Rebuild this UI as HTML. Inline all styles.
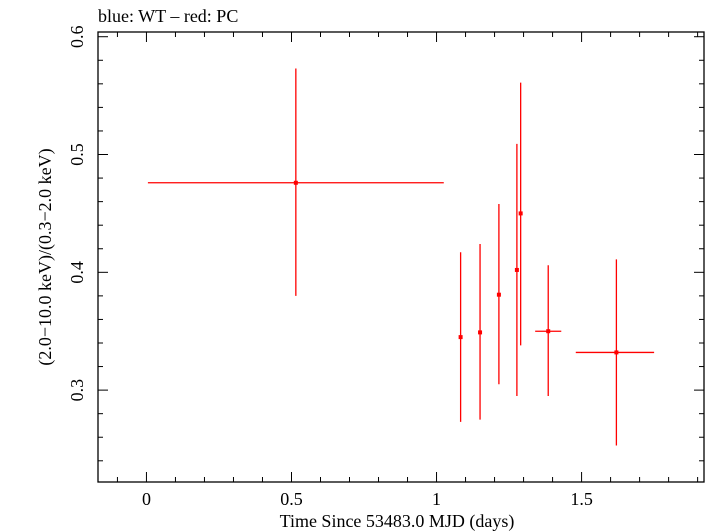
<!DOCTYPE html>
<html><head><meta charset="utf-8"><style>
body{margin:0;background:#fff;}
svg{display:block;font-family:"Liberation Serif",serif;}
</style></head><body>
<svg id="chart" width="705" height="532" viewBox="0 0 705 532" xmlns="http://www.w3.org/2000/svg">
<text x="98" y="22" font-size="18">blue: WT – red: PC</text>
<text x="397" y="527" font-size="18" text-anchor="middle">Time Since 53483.0 MJD (days)</text>
<text transform="translate(51,257) rotate(-90)" font-size="18" text-anchor="middle">(2.0−10.0 keV)/(0.3−2.0 keV)</text>
<g id="ticks"></g>
<g id="marks"></g>
<rect x="98" y="32" width="606" height="450" fill="none" stroke="#000" stroke-width="1.3"/>
</svg>
<script>
const xTickValues=[0,0.5,1,1.5];
const xTickLabels=["0","0.5","1","1.5"];
const yTickValues=[0.3,0.4,0.5,0.6];
const yTickLabels=["0.3","0.4","0.5","0.6"];
const times=[0.515,1.083,1.150,1.215,1.277,1.290,1.385,1.620];
const timeLo=[0.005,1.080,1.147,1.212,1.274,1.287,1.340,1.480];
const timeHi=[1.025,1.086,1.153,1.218,1.280,1.293,1.430,1.750];
const ratios=[0.476,0.345,0.349,0.381,0.402,0.450,0.350,0.332];
const ratioLo=[0.380,0.273,0.275,0.305,0.295,0.338,0.295,0.253];
const ratioHi=[0.573,0.417,0.424,0.458,0.509,0.561,0.406,0.411];

const L=98,R=704,T=32,B=482;
const xMin=-0.167,xMax=1.922,yMin=0.222,yMax=0.604;
const X=v=>L+(v-xMin)/(xMax-xMin)*(R-L);
const Y=v=>B-(v-yMin)/(yMax-yMin)*(B-T);
const NS="http://www.w3.org/2000/svg";
function mk(tag,attrs,parent){const e=document.createElementNS(NS,tag);for(const k in attrs)e.setAttribute(k,attrs[k]);parent.appendChild(e);return e;}
const tg=document.getElementById('ticks');
const mg=document.getElementById('marks');
for(let i=-1;i<=19;i++){const v=i/10;if(v<xMin||v>xMax)continue;const major=i%5===0;const len=major?10:5;
 const t1=mk('line',{x1:X(v),x2:X(v),y1:B,y2:B-len,stroke:'#000','stroke-width':1},tg);
 
 
 const t2=mk('line',{x1:X(v),x2:X(v),y1:T,y2:T+len,stroke:'#000','stroke-width':1},tg);
 
 }
for(let i=12;i<=30;i++){const v=i/50;if(v<yMin||v>yMax)continue;const major=i%5===0;const len=major?10:5;
 const t1=mk('line',{x1:L,x2:L+len,y1:Y(v),y2:Y(v),stroke:'#000','stroke-width':1},tg);
 
 
 const t2=mk('line',{x1:R,x2:R-len,y1:Y(v),y2:Y(v),stroke:'#000','stroke-width':1},tg);
 
 }
xTickValues.forEach((v,i)=>{const t=mk('text',{x:X(v),y:505,'font-size':18,'text-anchor':'middle'},tg);t.textContent=xTickLabels[i];
 
 });
yTickValues.forEach((v,i)=>{const t=mk('text',{transform:`translate(83,${Y(v)}) rotate(-90)`,'font-size':18,'text-anchor':'middle'},tg);t.textContent=yTickLabels[i];
 
 });
times.forEach((t,i)=>{
 const g=mk('g',{},mg);
 
 
 mk('line',{x1:X(timeLo[i]),x2:X(timeHi[i]),y1:Y(ratios[i]),y2:Y(ratios[i]),stroke:'#f00','stroke-width':1.3},g);
 mk('line',{x1:X(t),x2:X(t),y1:Y(ratioLo[i]),y2:Y(ratioHi[i]),stroke:'#f00','stroke-width':1.3},g);
 mk('rect',{x:X(t)-2,y:Y(ratios[i])-2,width:4,height:4,fill:'#f00'},g);
});
</script>
</body></html>
